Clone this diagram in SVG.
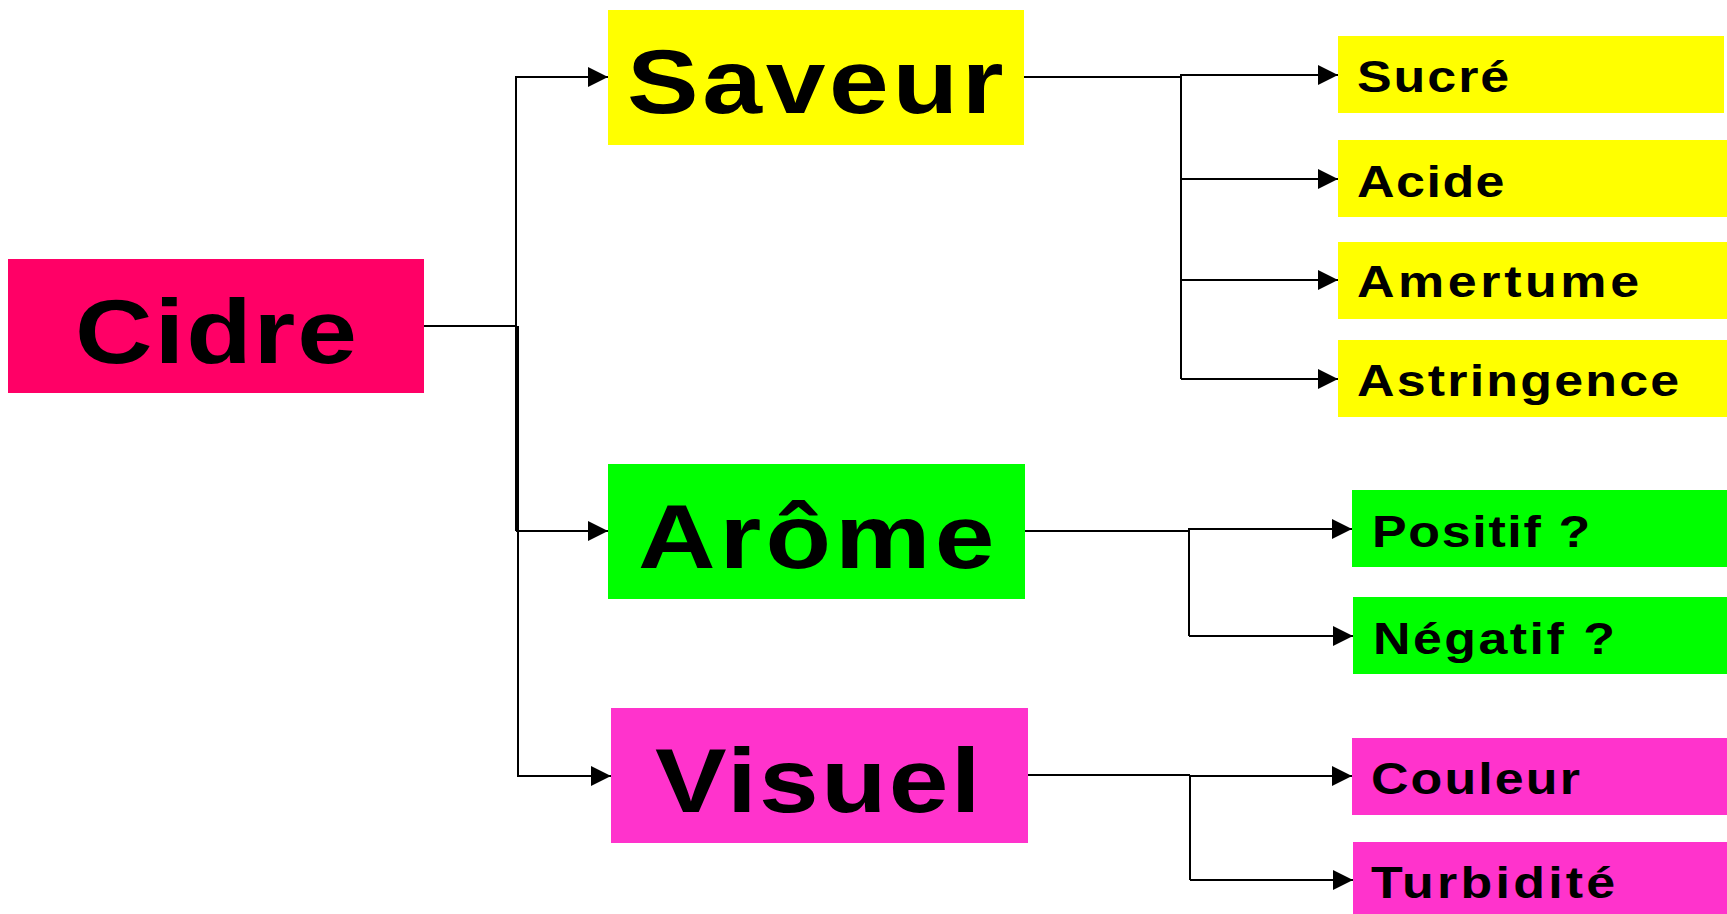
<svg xmlns="http://www.w3.org/2000/svg" width="1727" height="914" viewBox="0 0 1727 914">
<style>
.big{font-family:"Liberation Sans",Arial,sans-serif;font-weight:bold;font-size:91px;fill:#000}
.sm{font-family:"Liberation Sans",Arial,sans-serif;font-weight:bold;font-size:44px;fill:#000}
.c{fill:none;stroke:#000;stroke-width:2}
.a{marker-end:url(#arr)}
</style>
<defs>
<marker id="arr" markerUnits="userSpaceOnUse" markerWidth="20" markerHeight="20" refX="20" refY="10" orient="auto">
<path d="M0,0 L20,10 L0,20 Z" fill="#000"/>
</marker>
</defs>
<rect width="1727" height="914" fill="#fff"/>
<g id="connectors">
<path class="c" d="M424,326 H517"/>
<path class="c a" d="M516,531 V77 H608"/>
<path class="c a" d="M516,531 H608"/>
<path class="c a" d="M518,326 V776 H611"/>
<path class="c" d="M1024,77 H1181"/>
<path class="c a" d="M1181,379 V75 H1338"/>
<path class="c a" d="M1181,179 H1338"/>
<path class="c a" d="M1181,280 H1338"/>
<path class="c a" d="M1181,379 H1338"/>
<path class="c" d="M1025,531 H1189"/>
<path class="c a" d="M1189,636 V529 H1352"/>
<path class="c a" d="M1189,636 H1353"/>
<path class="c" d="M1028,775 H1190"/>
<path class="c a" d="M1190,880 V776 H1352"/>
<path class="c a" d="M1190,880 H1353"/>
</g>
<g id="cidre"><rect x="8" y="259" width="416" height="134" fill="#FF0066"/><text class="big" transform="translate(75,363) scale(1.18,1)" textLength="239" lengthAdjust="spacing">Cidre</text></g>
<g id="saveur"><rect x="608" y="10" width="416" height="135" fill="#FFFF00"/><text class="big" transform="translate(627,113) scale(1.18,1)" textLength="319" lengthAdjust="spacing">Saveur</text></g>
<g id="arome"><rect x="608" y="464" width="417" height="135" fill="#00FF00"/><text class="big" transform="translate(638,568) scale(1.18,1)" textLength="302" lengthAdjust="spacing">Arôme</text></g>
<g id="visuel"><rect x="611" y="708" width="417" height="135" fill="#FF33CC"/><text class="big" transform="translate(655,812) scale(1.18,1)" textLength="276" lengthAdjust="spacing">Visuel</text></g>
<g id="sucre"><rect x="1338" y="36" width="386" height="77" fill="#FFFF00"/><text class="sm" transform="translate(1357,92) scale(1.18,1)" textLength="129" lengthAdjust="spacing">Sucré</text></g>
<g id="acide"><rect x="1338" y="140" width="389" height="77" fill="#FFFF00"/><text class="sm" transform="translate(1357,197) scale(1.18,1)" textLength="125" lengthAdjust="spacing">Acide</text></g>
<g id="amertume"><rect x="1338" y="242" width="389" height="77" fill="#FFFF00"/><text class="sm" transform="translate(1357,297) scale(1.18,1)" textLength="239" lengthAdjust="spacing">Amertume</text></g>
<g id="astringence"><rect x="1338" y="340" width="389" height="77" fill="#FFFF00"/><text class="sm" transform="translate(1357,396) scale(1.18,1)" textLength="273" lengthAdjust="spacing">Astringence</text></g>
<g id="positif"><rect x="1352" y="490" width="375" height="77" fill="#00FF00"/><text class="sm" transform="translate(1372,547) scale(1.18,1)" textLength="185" lengthAdjust="spacing">Positif ?</text></g>
<g id="negatif"><rect x="1353" y="597" width="374" height="77" fill="#00FF00"/><text class="sm" transform="translate(1373,654) scale(1.18,1)" textLength="205" lengthAdjust="spacing">Négatif ?</text></g>
<g id="couleur"><rect x="1352" y="738" width="375" height="77" fill="#FF33CC"/><text class="sm" transform="translate(1371,794) scale(1.18,1)" textLength="177" lengthAdjust="spacing">Couleur</text></g>
<g id="turbidite"><rect x="1353" y="842" width="374" height="72" fill="#FF33CC"/><text class="sm" transform="translate(1371,898) scale(1.18,1)" textLength="207" lengthAdjust="spacing">Turbidité</text></g>
</svg>
